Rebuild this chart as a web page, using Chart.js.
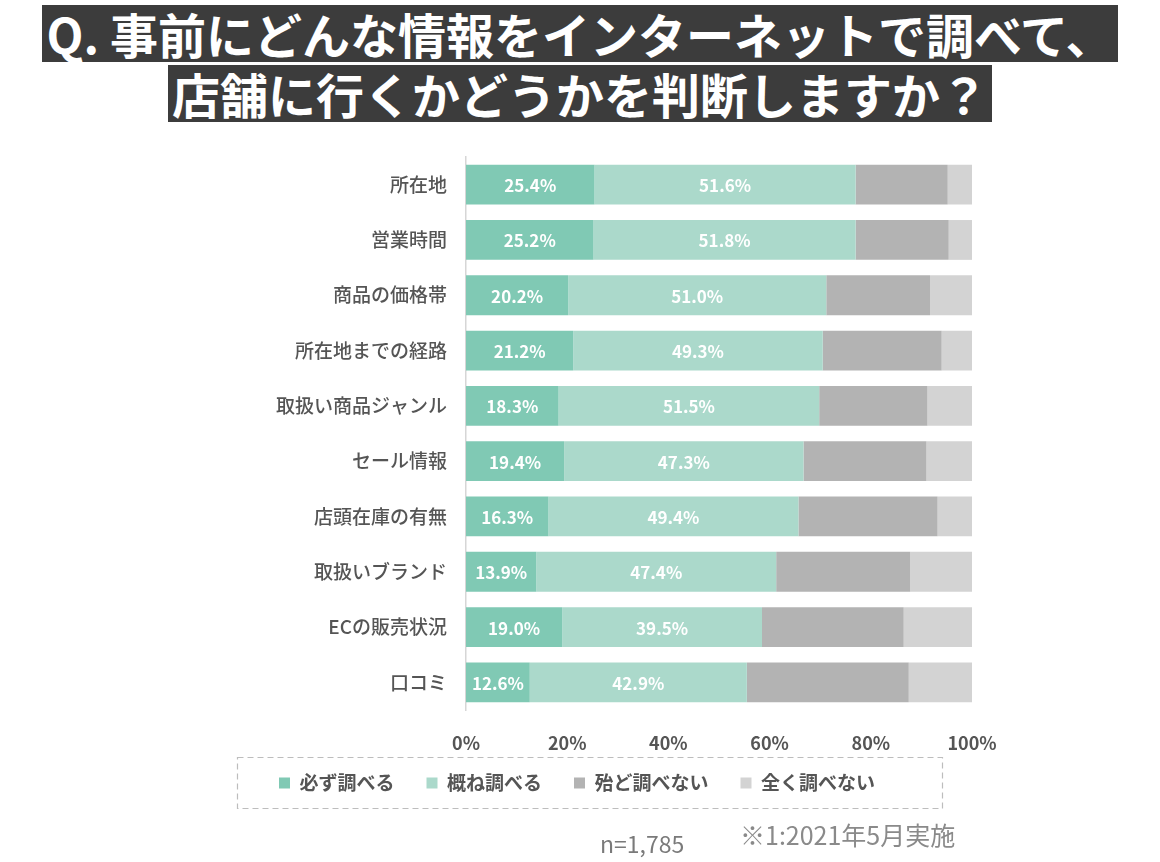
<!DOCTYPE html>
<html lang="ja">
<head>
<meta charset="UTF-8" />
<title>事前にどんな情報をインターネットで調べて、店舗に行くかどうかを判断しますか？</title>
<script src="https://cdn.jsdelivr.net/npm/chart.js"></script>
<style>
  body {
    margin: 0;
    width: 1160px;
    height: 862px;
    background: #fff;
    font-family: "Noto Sans CJK JP", "Noto Sans", sans-serif;
    position: relative;
    overflow: hidden;
  }
  .title {
    position: absolute;
    top: 5px;
    left: 0;
    width: 1160px;
    text-align: center;
  }
  .title span {
    display: inline-block;
    background: #3c3c3c;
    color: #fff;
    font-size: 48px;
    font-weight: 700;
    line-height: 57px;
    padding: 0 4px;
    margin-bottom: 3px;
    white-space: nowrap;
  }
  .chart-box {
    position: absolute;
    left: 0;
    top: 130px;
    width: 1160px;
    height: 732px;
  }
  .n {
    position: absolute;
    left: 600px;
    top: 827px;
    font-size: 23px;
    line-height: 32px;
    color: #7a7a7a;
  }
  .src {
    position: absolute;
    left: 740px;
    top: 817px;
    font-size: 25px;
    line-height: 35px;
    color: #8a8a8a;
  }
</style>
</head>
<body>
  <div class="title">
    <span>Q. 事前にどんな情報をインターネットで調べて、</span><br>
    <span>店舗に行くかどうかを判断しますか？</span>
  </div>
  <div class="chart-box">
    <canvas id="chart"></canvas>
  </div>
  <div class="n">n=1,785</div>
  <div class="src">※1:2021年5月実施</div>

<script>
// 項目
const categories = ['所在地', '営業時間', '商品の価格帯', '所在地までの経路', '取扱い商品ジャンル',
  'セール情報', '店頭在庫の有無', '取扱いブランド', 'ECの販売状況', '口コミ'];
const seriesNames = ['必ず調べる', '概ね調べる', '殆ど調べない', '全く調べない'];

// 回答割合 (%)
const always   = [25.4, 25.2, 20.2, 21.2, 18.3, 19.4, 16.3, 13.9, 19.0, 12.6];
const mostly   = [51.6, 51.8, 51.0, 49.3, 51.5, 47.3, 49.4, 47.4, 39.5, 42.9];
const rarely   = [18.2, 18.4, 20.5, 23.5, 21.4, 24.3, 27.5, 26.5, 28.0, 32.0];
const never    = [4.8, 4.6, 8.3, 6.0, 8.8, 9.0, 6.8, 12.2, 13.5, 12.5];

const xTicks = [0, 20, 40, 60, 80, 100];

const colors = ['#80c9b4', '#abd9cb', '#b3b3b3', '#d3d3d3'];
const font = '"Noto Sans CJK JP", "Noto Sans", sans-serif';

// 濃い2系列の中にパーセント表示
const barLabels = {
  id: 'barLabels',
  afterDatasetsDraw(chart) {
    const { ctx } = chart;
    ctx.save();
    ctx.fillStyle = '#fff';
    ctx.font = '600 17px ' + font;
    ctx.textAlign = 'center';
    ctx.textBaseline = 'middle';
    [0, 1].forEach(di => {
      const meta = chart.getDatasetMeta(di);
      meta.data.forEach((bar, i) => {
        const { x, y, base } = bar.getProps(['x', 'y', 'base'], true);
        const v = chart.data.datasets[di].data[i];
        ctx.fillText(v.toFixed(1) + '%', (x + base) / 2, y + 1);
      });
    });
    ctx.restore();
  }
};

// 凡例を目盛りのすぐ下へ寄せて、点線枠で囲む
const legendFrame = {
  id: 'legendFrame',
  afterLayout(chart) {
    const lg = chart.legend;
    if (!lg) return;
    const shift = lg.top - (chart.chartArea.bottom + 31.5);
    lg.top -= shift;
    lg.bottom -= shift;
  },
  afterDraw(chart) {
    const lg = chart.legend;
    if (!lg || !lg.legendHitBoxes.length) return;
    const hb = lg.legendHitBoxes[0];
    const cy = hb.top + hb.height / 2;
    const { ctx } = chart;
    ctx.save();
    ctx.strokeStyle = '#bdbdbd';
    ctx.lineWidth = 1.2;
    ctx.setLineDash([6, 4]);
    ctx.strokeRect(237.5, cy - 25.5, 705, 51);
    ctx.restore();
  }
};

new Chart(document.getElementById('chart'), {
  type: 'bar',
  data: {
    labels: categories,
    datasets: [always, mostly, rarely, never].map((d, i) => ({
      label: seriesNames[i],
      data: d,
      backgroundColor: colors[i],
      borderWidth: 0,
      categoryPercentage: 1,
      barPercentage: 0.72
    }))
  },
  options: {
    indexAxis: 'y',
    responsive: true,
    maintainAspectRatio: false,
    animation: false,
    layout: { padding: { top: 27, right: 188, bottom: 31, left: 182 } },
    scales: {
      x: {
        stacked: true,
        min: 0,
        max: 100,
        grid: { display: false },
        border: { display: false },
        afterBuildTicks: s => { s.ticks = xTicks.map(v => ({ value: v })); },
        afterFit: s => { s.height = 60; },
        ticks: {
          padding: 14,
          color: '#555',
          font: { family: font, size: 18, weight: 'bold' },
          callback: v => v + '%'
        }
      },
      y: {
        stacked: true,
        grid: { display: false },
        border: { display: true, color: '#d6d6d6', width: 1.5 },
        afterFit: s => { s.width = 466 - 182; },
        ticks: {
          padding: 11,
          color: '#555',
          font: { family: font, size: 19, weight: '500' }
        }
      }
    },
    plugins: {
      legend: {
        position: 'bottom',
        labels: {
          boxWidth: 11,
          boxHeight: 11,
          padding: 32,
          color: '#555',
          font: { family: font, size: 19, weight: 'bold' }
        }
      },
      tooltip: { enabled: false }
    }
  },
  plugins: [barLabels, legendFrame]
});
</script>
</body>
</html>
